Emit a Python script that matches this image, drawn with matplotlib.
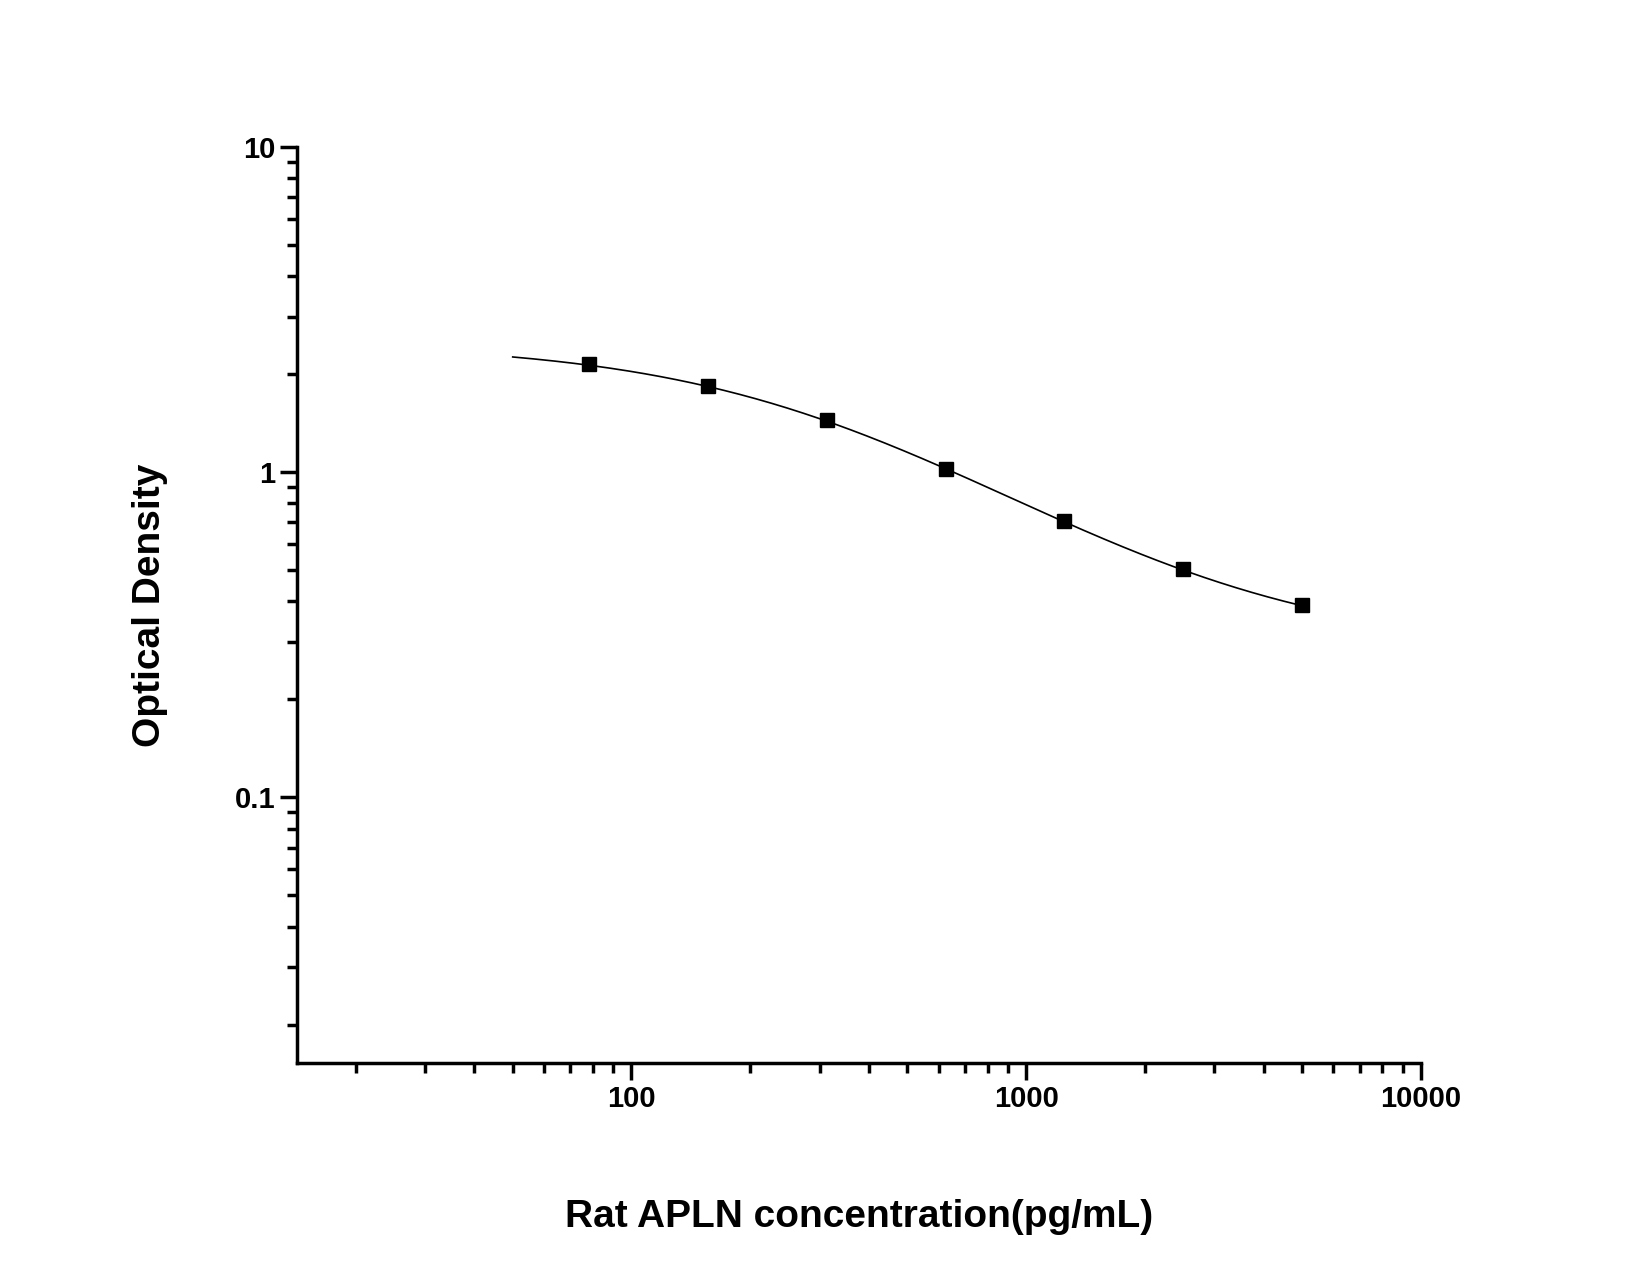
import numpy as np
import matplotlib
matplotlib.use("Agg")
import matplotlib.pyplot as plt
from matplotlib.ticker import LogLocator, NullFormatter, FixedLocator, FixedFormatter

conc = [78.125, 156.25, 312.5, 625, 1250, 2500, 5000]
od = [2.15, 1.84, 1.44, 1.02, 0.705, 0.504, 0.391]

# 4-parameter logistic fit to the points (grid search)
lx = np.log10(conc); ly = np.log10(od)
best = None
for A in np.linspace(2.2, 3.0, 17):
    for D in np.linspace(0.1, 0.38, 15):
        for lc in np.linspace(2.4, 3.4, 41):
            for B in np.linspace(0.5, 1.6, 23):
                p = D + (A - D) / (1 + 10 ** (B * (lx - lc)))
                e = np.sum((np.log10(p) - ly) ** 2)
                if best is None or e < best[0]:
                    best = (e, A, D, lc, B)
_, A, D, lc, B = best
xc = np.logspace(np.log10(50), np.log10(5000), 300)
yc = D + (A - D) / (1 + 10 ** (B * (np.log10(xc) - lc)))

plt.rcParams['font.family'] = ['Arial', 'Liberation Sans', 'DejaVu Sans']
fig = plt.figure(figsize=(16.5, 12.75), dpi=100)
ax = fig.add_axes([0.180, 0.166, 0.681, 0.719])
ax.plot(xc, yc, color='black', lw=1.2)
ax.plot(conc, od, 's', color='black', ms=10)
ax.set_xscale('log'); ax.set_yscale('log')
ax.set_xlim(14.2, 10000); ax.set_ylim(0.0152, 10)
for s in ['top', 'right']:
    ax.spines[s].set_visible(False)
for s in ['left', 'bottom']:
    ax.spines[s].set_linewidth(2.5)
ax.xaxis.set_major_locator(FixedLocator([100, 1000, 10000]))
ax.xaxis.set_major_formatter(FixedFormatter(['100', '1000', '10000']))
ax.yaxis.set_major_locator(FixedLocator([0.1, 1, 10]))
ax.yaxis.set_major_formatter(FixedFormatter(['0.1', '1', '10']))
ax.xaxis.set_minor_locator(LogLocator(base=10, subs=np.arange(2, 10)))
ax.yaxis.set_minor_locator(LogLocator(base=10, subs=np.arange(2, 10)))
ax.xaxis.set_minor_formatter(NullFormatter()); ax.yaxis.set_minor_formatter(NullFormatter())
ax.tick_params(which='major', length=12, width=2.5, labelsize=21)
ax.tick_params(which='minor', length=7, width=2.5)
for t in ax.get_xticklabels() + ax.get_yticklabels():
    t.set_fontweight('bold')
ax.set_xlabel('Rat APLN concentration(pg/mL)', fontsize=28, fontweight='bold', labelpad=62)
ax.set_ylabel('Optical Density', fontsize=28, fontweight='bold', labelpad=48)
fig.savefig('out.png', dpi=100)
